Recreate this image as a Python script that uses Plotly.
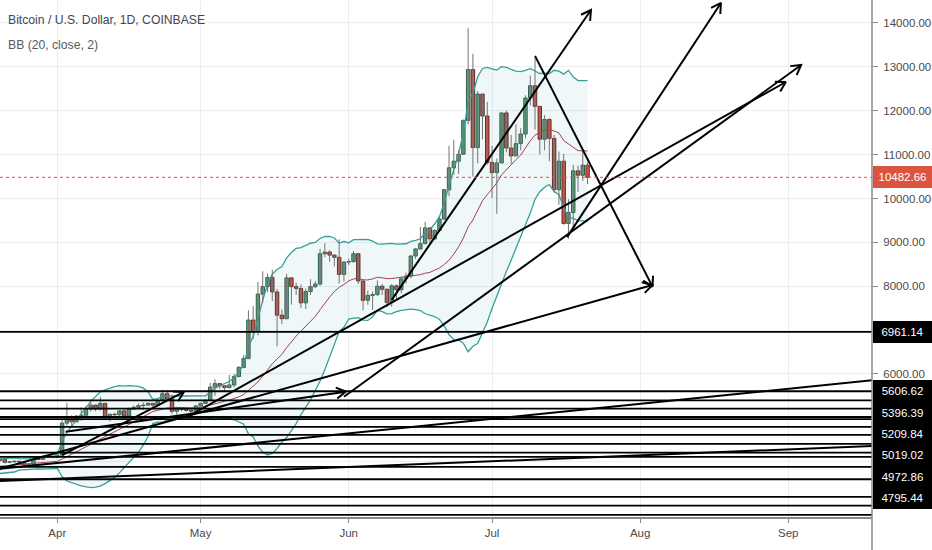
import numpy as np
import pandas as pd
import plotly.graph_objects as go

# ---------------- data (BTC/USD daily) ----------------
start_date = "2019-03-01"

opens = [
    3815, 3823, 3815, 3787, 3713, 3860, 3872, 3881, 3863, 3942, 3917, 3872, 3882, 3866, 3871, 3913,
    4007, 3981, 3989, 4030, 4058, 3987, 3998, 4012, 3993, 3922, 3940, 4083, 4050, 4120, 4110,
    4105, 4150, 4880, 4970, 4910, 5040, 5060, 5200, 5290, 5200, 5330, 5030, 5080, 5070, 5160,
    5040, 5200, 5240, 5280, 5290, 5330, 5290, 5390, 5550, 5430, 5150, 5200, 5190, 5170, 5150,
    5270, 5330, 5400, 5700, 5780, 5730, 5690, 5750, 5940, 6150, 6350, 7230, 6970, 7820, 7990,
    8200, 7870, 7340, 7260, 8190, 7990, 7950, 7620, 7880, 7990, 8050, 8740, 8780, 8710, 8660, 8270,
    8550, 8560, 8740, 8120, 7680, 7790, 7810, 8000, 7930, 7630, 8010, 7920, 8170, 8230, 8690,
    8850, 8970, 9330, 9080, 9270, 9530, 10200, 10700, 10850, 11010, 11780, 12940, 11160, 12380, 11880,
    10820, 10590, 10810, 11950, 11150, 10970, 11250, 11470, 12290, 12570, 12100, 11350, 11800, 11370,
    10200, 10850, 9430, 9680, 10630, 10530, 10760,
]
highs = [
    3860, 3840, 3830, 3810, 3880, 3905, 3920, 3930, 3965, 3950, 3925, 3900, 3900, 3910, 3930, 4070,
    4010, 4050, 4045, 4080, 4090, 4020, 4030, 4015, 4000, 3960, 4100, 4090, 4140, 4150, 4120,
    4170, 4950, 5340, 5060, 5060, 5240, 5270, 5350, 5300, 5480, 5340, 5100, 5120, 5170, 5190,
    5240, 5280, 5330, 5350, 5350, 5340, 5440, 5640, 5630, 5530, 5250, 5230, 5220, 5200, 5300,
    5350, 5420, 5800, 5880, 5790, 5750, 5980, 6000, 6180, 6430, 7450, 7550, 8100, 8340, 8290,
    8380, 7940, 7470, 8280, 8190, 8080, 8040, 7950, 8160, 8120, 8850, 8980, 8820, 8720, 9070,
    8580, 8630, 8800, 8740, 8120, 7900, 7880, 8130, 8050, 7950, 8050, 8040, 8220, 8310, 8700,
    8870, 9350, 9470, 9340, 9300, 9600, 10200, 11200, 11340, 11100, 11800, 13880, 13300, 12450, 12380,
    12200, 11200, 10910, 11950, 12000, 11450, 11690, 11600, 12350, 12800, 13200, 12100, 11900, 11830,
    11450, 11070, 11020, 9980, 10770, 10750, 11080, 10830,
]
lows = [
    3790, 3770, 3760, 3690, 3700, 3830, 3860, 3810, 3855, 3890, 3840, 3820, 3850, 3830, 3860, 3905,
    3950, 3960, 3970, 4000, 3960, 3980, 3985, 3970, 3880, 3905, 3935, 4030, 4040, 4090, 4090,
    4080, 4145, 4820, 4780, 4900, 4930, 5060, 5140, 5150, 5170, 4950, 4920, 5040, 5030, 4960,
    5020, 5190, 5230, 5180, 5270, 5220, 5270, 5380, 5410, 5090, 5070, 5150, 5140, 5100, 5140,
    5260, 5310, 5390, 5500, 5660, 5610, 5690, 5690, 5940, 6130, 6340, 6800, 6880, 7630, 7870,
    7660, 6630, 7140, 7260, 7580, 7800, 7500, 7480, 7800, 7960, 8010, 8660, 8560, 8450, 8060,
    8110, 8480, 8540, 8050, 7450, 7580, 7460, 7780, 7800, 7520, 7530, 7700, 7840, 8060, 8180,
    8620, 8830, 8970, 8940, 9050, 9240, 9530, 10050, 10540, 10560, 10990, 11690, 10500, 10800, 11350,
    10770, 10010, 9650, 10810, 11050, 10790, 10970, 11100, 11370, 12120, 11570, 11000, 11100, 10850,
    10130, 9860, 9400, 9080, 9300, 10150, 10400, 10330,
]
closes = [
    3823, 3815, 3787, 3713, 3860, 3872, 3881, 3863, 3942, 3917, 3872, 3882, 3866, 3871, 3913, 4007,
    3981, 3989, 4030, 4058, 3987, 3998, 4012, 3993, 3922, 3940, 4083, 4050, 4120, 4110, 4105,
    4150, 4880, 4970, 4910, 5040, 5060, 5200, 5290, 5200, 5330, 5030, 5080, 5070, 5160, 5040,
    5200, 5240, 5280, 5290, 5330, 5290, 5390, 5550, 5430, 5150, 5200, 5190, 5170, 5150, 5270,
    5330, 5400, 5700, 5780, 5730, 5690, 5750, 5940, 6150, 6350, 7230, 6970, 7820, 7990, 8200,
    7870, 7340, 7260, 8190, 7990, 7950, 7620, 7880, 7990, 8050, 8740, 8780, 8710, 8660, 8270, 8550,
    8560, 8740, 8120, 7680, 7790, 7810, 8000, 7930, 7630, 8010, 7920, 8170, 8230, 8690, 8850,
    8970, 9330, 9080, 9270, 9530, 10200, 10700, 10850, 11010, 11780, 12940, 11160, 12380, 11880, 10820,
    10590, 10810, 11950, 11150, 10970, 11250, 11470, 12290, 12570, 12100, 11350, 11800, 11370, 10200,
    10850, 9430, 9680, 10630, 10530, 10760, 10482.66,
]

bb_length = 20
bb_mult = 2

# visible window of the chart
x_range = ["2019-03-20 00:00", "2019-09-18 13:00"]
y_range = [2740, 14524]
y_ticks = [3000, 4000, 5000, 6000, 7000, 8000, 9000, 10000, 11000, 12000, 13000, 14000]
month_ticks = ["2019-04-01", "2019-05-01", "2019-06-01", "2019-07-01", "2019-08-01", "2019-09-01"]
month_labels = ["Apr", "May", "Jun", "Jul", "Aug", "Sep"]

# horizontal lines drawn on the chart
level_prices = [5606.62, 5396.39, 5209.84, 5019.02, 4972.86, 4795.44, 4609.71, 4404.60,
                4206.30, 4108.30, 3880.30, 3600.00, 3196.60, 2998.00, 2790.00]
level_single = 6961.14

# trend lines / arrows drawn on the chart (date, price) pairs
trend_x0 = ["2019-03-19", "2019-03-19", "2019-03-19", "2019-04-02", "2019-04-02 18:00",
            "2019-05-31", "2019-04-29", "2019-06-10", "2019-07-16 17:00", "2019-07-10"]
trend_y0 = [3555, 3826, 3810, 4150, 4685, 5480, 5070, 7690, 9120, 13250]
trend_x1 = ["2019-09-19", "2019-09-19", "2019-08-03 14:00", "2019-04-27 12:00", "2019-05-31 10:00",
            "2019-09-03 17:00", "2019-08-31 12:00", "2019-07-21 17:00", "2019-08-17 22:00", "2019-08-03 14:00"]
trend_y1 = [4360, 5860, 8028, 5590, 5597, 13043, 12655, 14296, 14456, 7990]
trend_arrow = [False, False, True, True, True, True, True, True, True, True]

title_text = "Bitcoin / U.S. Dollar, 1D, COINBASE"
indicator_text = "BB (20, close, 2)"

# ---------------- derived ----------------
dates = pd.date_range(start_date, periods=len(closes), freq="D")
o = np.array(opens, float); h = np.array(highs, float)
l = np.array(lows, float); c = np.array(closes, float)
s = pd.Series(c, index=dates)
basis = s.rolling(bb_length).mean()
dev = s.rolling(bb_length).std(ddof=0)
upper = basis + bb_mult * dev
lower = basis - bb_mult * dev
valid = basis.notna()
last_price = closes[-1]

W, H = 932, 550
ML, MR, MT, MB = 0, 60, 0, 33
PW, PH = W - ML - MR, H - MT - MB
t0, t1 = pd.Timestamp(x_range[0]), pd.Timestamp(x_range[1])


def to_px(t, p):
    return ((pd.Timestamp(t) - t0) / (t1 - t0)) * PW, (y_range[1] - p) / (y_range[1] - y_range[0]) * PH


def from_px(x, y):
    return t0 + (t1 - t0) * (x / PW), y_range[1] - y / PH * (y_range[1] - y_range[0])


FONT = "Liberation Sans, Arial, sans-serif"
UP_FILL, UP_LINE = "#6ba583", "#225437"
DN_FILL, DN_LINE = "#d75442", "#5b1a13"
WICK = "#737375"
BAND = "#35a09a"
BASIS = "#a3414d"
GRID = "#ebedf0"
PRICE_RED = "#dc543f"

fig = go.Figure()

# Bollinger band fill + lines
fig.add_trace(go.Scatter(x=dates[valid], y=upper[valid], mode="lines",
                         line=dict(color=BAND, width=1.3), hoverinfo="skip"))
fig.add_trace(go.Scatter(x=dates[valid], y=lower[valid], mode="lines",
                         line=dict(color=BAND, width=1.3), fill="tonexty",
                         fillcolor="rgba(25,141,170,0.07)", hoverinfo="skip"))
fig.add_trace(go.Scatter(x=dates[valid], y=basis[valid], mode="lines",
                         line=dict(color=BASIS, width=1), hoverinfo="skip"))

# wicks
wx, wy = [], []
for d, lo, hi in zip(dates, l, h):
    wx += [d, d, None]
    wy += [lo, hi, None]
fig.add_trace(go.Scatter(x=wx, y=wy, mode="lines", line=dict(color=WICK, width=1), hoverinfo="skip"))

# bodies
up = c >= o
body_base = np.minimum(o, c)
body_h = np.maximum(np.abs(c - o), 12)
bw = 0.72 * 86400000
fig.add_trace(go.Bar(x=dates[up], base=body_base[up], y=body_h[up], width=bw,
                     marker=dict(color=UP_FILL, line=dict(color=UP_LINE, width=0.9)), hoverinfo="skip"))
fig.add_trace(go.Bar(x=dates[~up], base=body_base[~up], y=body_h[~up], width=bw,
                     marker=dict(color=DN_FILL, line=dict(color=DN_LINE, width=0.9)), hoverinfo="skip"))

# trend lines and arrow heads
for x0, y0, x1, y1, arr in zip(trend_x0, trend_y0, trend_x1, trend_y1, trend_arrow):
    fig.add_trace(go.Scatter(x=[pd.Timestamp(x0), pd.Timestamp(x1)], y=[y0, y1], mode="lines",
                             line=dict(color="black", width=2), hoverinfo="skip"))
    if arr:
        hx, hy = to_px(x1, y1)
        tx, ty = to_px(x0, y0)
        dx, dy = hx - tx, hy - ty
        n = np.hypot(dx, dy)
        ux, uy = -dx / n, -dy / n
        ax, ay = [], []
        for ang in (np.radians(30), -np.radians(30)):
            rx = ux * np.cos(ang) - uy * np.sin(ang)
            ry = ux * np.sin(ang) + uy * np.cos(ang)
            pt = from_px(hx + rx * 11, hy + ry * 11)
            ax.append(pt[0]); ay.append(pt[1])
        fig.add_trace(go.Scatter(x=[ax[0], pd.Timestamp(x1), ax[1]], y=[ay[0], y1, ay[1]],
                                 mode="lines", line=dict(color="black", width=2), hoverinfo="skip"))

shapes = []
for p in level_prices + [level_single]:
    shapes.append(dict(type="line", xref="paper", x0=0, x1=1, yref="y", y0=p, y1=p,
                       line=dict(color="black", width=1.8), layer="above"))
shapes.append(dict(type="line", xref="paper", x0=0, x1=1, yref="y", y0=last_price, y1=last_price,
                   line=dict(color=PRICE_RED, width=1, dash="dot"), layer="above"))
# price axis line across the full height
shapes.append(dict(type="line", xref="paper", x0=1, x1=1, yref="paper", y0=-MB / PH, y1=1,
                   line=dict(color="#8a8a8a", width=1.5)))

LABEL_FONT = dict(family=FONT, size=11.5, color="white")
label_h = 21.4
ann = []
spans = []


def add_label(price_pos, text, bg):
    _, ypx = to_px(t0, price_pos)
    spans.append((ypx - label_h / 2, ypx + label_h / 2))
    ann.append(dict(xref="paper", x=1, xanchor="left", xshift=1, yref="y", y=price_pos,
                    yanchor="middle", text=text, showarrow=False, bgcolor=bg,
                    font=LABEL_FONT, width=57, height=label_h - 1.4,
                    borderpad=1, borderwidth=0, align="center"))


# stacked labels of the horizontal lines (pushed down when they would overlap)
prev = -1e9
for p in sorted(level_prices, reverse=True):
    _, ypx = to_px(t0, p)
    ypx = max(ypx, prev + label_h)
    prev = ypx
    if ypx - label_h / 2 < PH:
        add_label(from_px(0, ypx)[1], f"{p:.2f}", "black")
add_label(level_single, f"{level_single:.2f}", "black")
add_label(last_price, f"{last_price:.2f}", PRICE_RED)

# white cover below the plot so a label pushed past the bottom is cut there
ann.append(dict(xref="paper", x=1, xanchor="left", xshift=1, yref="paper", y=0, yanchor="top",
                yshift=-1, text="", showarrow=False, bgcolor="white", width=60, height=MB,
                borderpad=0, borderwidth=0))

ann.append(dict(xref="paper", x=0, xanchor="left", xshift=6, yref="paper", y=1, yanchor="middle",
                yshift=-20, text=title_text, showarrow=False,
                font=dict(family=FONT, size=12.2, color="#434651")))
ann.append(dict(xref="paper", x=0, xanchor="left", xshift=6, yref="paper", y=1, yanchor="middle",
                yshift=-45, text=indicator_text, showarrow=False,
                font=dict(family=FONT, size=12.2, color="#555a66")))

# tick labels that sit under a price label are hidden (as on the original axis)
tick_text = []
for v in y_ticks:
    _, ypx = to_px(t0, v)
    covered = any(a - 3 <= ypx <= b + 3 for a, b in spans)
    tick_text.append("" if covered else f"{v:.2f}")

fig.update_layout(
    width=W, height=H, margin=dict(l=ML, r=MR, t=MT, b=MB),
    paper_bgcolor="white", plot_bgcolor="white", showlegend=False,
    barmode="overlay", shapes=shapes, annotations=ann,
    xaxis=dict(type="date", range=x_range, tickvals=month_ticks, ticktext=month_labels,
               showgrid=True, gridcolor=GRID, ticks="outside", ticklen=4, tickcolor="#8a8a8a",
               showline=True, linecolor="#8a8a8a", linewidth=1.5, zeroline=False,
               tickfont=dict(family=FONT, size=11.5, color="#4a4a4a")),
    yaxis=dict(side="right", range=y_range, tickvals=y_ticks, ticktext=tick_text,
               showgrid=True, gridcolor=GRID,
               ticks="outside", ticklen=5, tickcolor="#8a8a8a", showline=False, zeroline=False,
               ticklabelstandoff=3, tickfont=dict(family=FONT, size=11.5, color="#4a4a4a")),
)

fig.write_html("out.html", config={"displayModeBar": False},
               post_script="document.body.style.margin='0';document.body.style.padding='0';")
